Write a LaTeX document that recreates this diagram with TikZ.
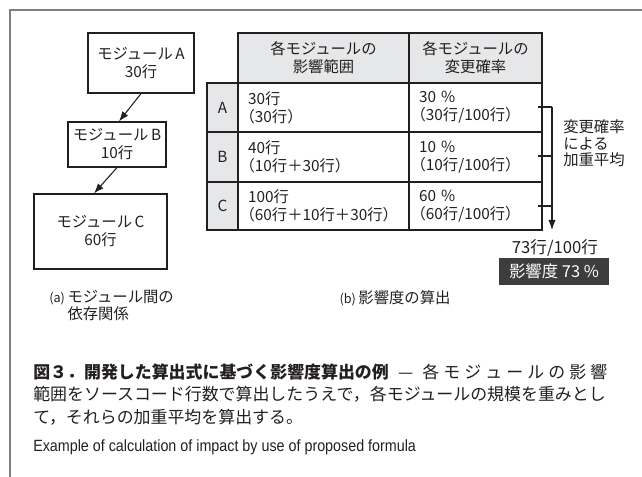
\documentclass[tikz,border=0pt]{standalone}
\usepackage{fontspec}
\setmainfont{Noto Sans CJK JP}
\newfontfamily\enfont[FakeStretch=0.88]{Liberation Sans}
\usetikzlibrary{arrows.meta,calc}
\definecolor{ink}{HTML}{231F20}
\definecolor{hdr}{HTML}{E6E7E8}
\definecolor{darkbox}{HTML}{3D3D3D}
\definecolor{framec}{HTML}{7F7F7F}
\begin{document}
\begin{tikzpicture}[x=0.75pt,y=-0.75pt,
  every node/.style={text=ink},
  font=\fontsize{11.5}{13.5}\selectfont,
  modbox/.style={draw=ink, line width=0.9pt, inner sep=0pt, align=center},
  hcell/.style={draw=ink, fill=hdr, line width=0.9pt, inner sep=0pt, align=center},
  lcell/.style={draw=ink, fill=hdr, line width=0.9pt, inner sep=0pt, minimum width=23.25pt},
  dcell/.style={draw=ink, line width=0.9pt, inner xsep=7.5pt, inner ysep=0pt, align=left},
  conn/.style={draw=ink, line width=0.8pt, -{Latex[length=7.5pt,width=5.5pt]}},
  brk/.style={draw=ink, line width=0.8pt},
  capline/.style={anchor=west, inner sep=0pt, font=\fontsize{12.7}{15}\selectfont}
]
\useasboundingbox (0,0) rectangle (642,477);
% frame
\coordinate (fTL) at (10,10);
\coordinate (fTR) at (642,10);
\coordinate (fBL) at (10,477);
\draw[framec, line width=1.2pt] (fBL) -- (fTL) -- (fTR);

% (a) modules
\node[modbox, minimum width=79.5pt, minimum height=45pt] (modA) at (141,63) {モジュール\,A\\30行};
\node[modbox, minimum width=73.5pt, minimum height=33.75pt] (modB) at (117,144.5) {モジュール\,B\\10行};
\node[modbox, minimum width=99.75pt, minimum height=56.25pt] (modC) at (100.5,231.5) {モジュール\,C\\60行};
\draw[conn] (modA.south) -- ($(modB.north)+(2,0)$);
\draw[conn] (modB.south) -- ($(modC.north)+(-6.5,0)$);

\node[anchor=west, align=left, inner sep=0pt, font=\fontsize{11.5}{12.75}\selectfont] (capa) at (49,305.5)
  {{\fontsize{9.5}{10}\selectfont(a)}\,モジュール間の\\\hphantom{{\fontsize{9.5}{10}\selectfont(a)}\,}依存関係};

% (b) table
\node[hcell, minimum width=128.25pt, minimum height=37.5pt] (h2) at (323.5,58) {各モジュールの\\影響範囲};
\node[hcell, minimum width=99.75pt, minimum height=37.5pt] (h3) at (475.5,58) {各モジュールの\\変更確率};

\node[lcell, minimum height=36.75pt] (la) at (222.5,107.5) {A};
\node[lcell, minimum height=37.5pt] (lb) at (222.5,157) {B};
\node[lcell, minimum height=36pt] (lc) at (222.5,206) {C};

\node[dcell, text width=113.25pt, minimum height=36.75pt] (a2) at (323.5,107.5) {30行\\\hspace*{-0.55em}（30行）};
\node[dcell, text width=113.25pt, minimum height=37.5pt] (b2) at (323.5,157) {40行\\\hspace*{-0.55em}（10行＋30行）};
\node[dcell, text width=113.25pt, minimum height=36pt] (c2) at (323.5,206) {100行\\\hspace*{-0.55em}（60行＋10行＋30行）};

\node[dcell, text width=84.75pt, minimum height=36.75pt] (a3) at (475.5,107.5) {30 \%\\\hspace*{-0.55em}（30行/100行）};
\node[dcell, text width=84.75pt, minimum height=37.5pt] (b3) at (475.5,157) {10 \%\\\hspace*{-0.55em}（10行/100行）};
\node[dcell, text width=84.75pt, minimum height=36pt] (c3) at (475.5,206) {60 \%\\\hspace*{-0.55em}（60行/100行）};

% bracket
\coordinate (tA) at (538,107);
\coordinate (tB) at (538,156);
\coordinate (tC) at (538,206);
\coordinate (jA) at (552,107);
\coordinate (jB) at (552,156);
\coordinate (jC) at (552,206);
\coordinate (bend) at (552,230);
\draw[brk] (tA) -- (jA);
\draw[brk] (tB) -- (jB);
\draw[brk] (tC) -- (jC);
\draw[conn] (jA) -- (bend);

\node[anchor=west, align=left, inner sep=0pt, font=\fontsize{11.5}{12.5}\selectfont] (wavg) at (563,143.5) {変更確率\\による\\加重平均};

\node[inner sep=0pt, font=\fontsize{12.5}{14}\selectfont] (ratio) at (555,248) {73行/100行};
\node[fill=darkbox, text=white, inner sep=0pt, minimum width=82.5pt, minimum height=20.25pt, font=\fontsize{12.3}{14}\selectfont] (res) at (554,271.5) {影響度 73 \%};

\node[inner sep=0pt] (capb) at (395,298) {{\fontsize{9.5}{10}\selectfont(b)}\,影響度の算出};

% caption
\node[capline] (cap1) at (33,372) {\makebox[430.5pt][s]{\textbf{図３．開発した算出式に基づく影響度算出の例}\hspace{0.3em plus 1fil}—\hspace{0.3em plus 1fil}各\hfil モ\hfil ジ\hfil ュ\hfil ー\hfil ル\hfil の\hfil 影\hfil 響}};
\node[capline] (cap2) at (33,394.5) {範囲をソースコード行数で算出したうえで，各モジュールの規模を重みとし};
\node[capline] (cap3) at (33,417) {て，それらの加重平均を算出する。};
\node[capline, font=\enfont\fontsize{12.2}{14}\selectfont] (cap4) at (33,447) {Example of calculation of impact by use of proposed formula};
\end{tikzpicture}
\end{document}
